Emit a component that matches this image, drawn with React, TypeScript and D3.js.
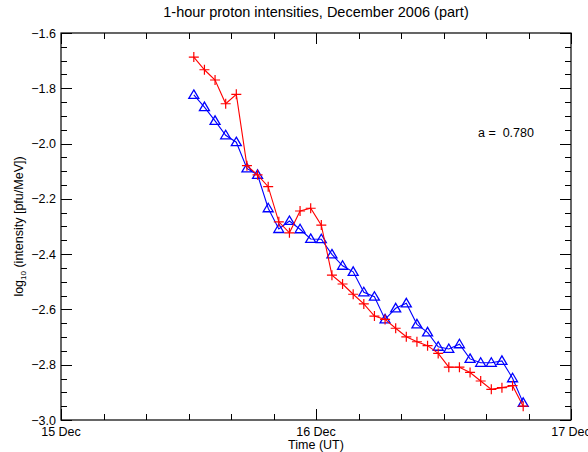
import React from "react";
import * as d3 from "d3";

const hours = [12.5, 13.5, 14.5, 15.5, 16.5, 17.5, 18.5, 19.5, 20.5, 21.5, 22.5, 23.5, 24.5, 25.5, 26.5, 27.5, 28.5, 29.5, 30.5, 31.5, 32.5, 33.5, 34.5, 35.5, 36.5, 37.5, 38.5, 39.5, 40.5, 41.5, 42.5, 43.5];
const redSeries = [-1.687, -1.733, -1.770, -1.856, -1.822, -2.080, -2.113, -2.156, -2.283, -2.323, -2.244, -2.234, -2.295, -2.476, -2.508, -2.545, -2.580, -2.624, -2.636, -2.668, -2.699, -2.717, -2.731, -2.759, -2.809, -2.809, -2.828, -2.859, -2.889, -2.883, -2.876, -2.950];
const blueSeries = [-1.824, -1.868, -1.918, -1.970, -1.995, -2.090, -2.113, -2.234, -2.309, -2.280, -2.310, -2.345, -2.346, -2.401, -2.442, -2.464, -2.538, -2.554, -2.636, -2.596, -2.578, -2.654, -2.683, -2.735, -2.743, -2.726, -2.779, -2.793, -2.793, -2.786, -2.849, -2.938];
const xTickHours = [0, 24, 48];
const xTickLabels = ["15 Dec", "16 Dec", "17 Dec"];
const yTickValues = [-1.6, -1.8, -2.0, -2.2, -2.4, -2.6, -2.8, -3.0];
const titleText = "1-hour proton intensities, December 2006 (part)";
const xTitle = "Time (UT)";
const annotation = "a =  0.780";

const W = 588, H = 452;
const L = 61, R = 571, T = 33, B = 420;
const FONT = "'Liberation Sans', Arial, Helvetica, sans-serif";

export default function App() {
  const x = d3.scaleLinear().domain([0, 48]).range([L, R]);
  const y = d3.scaleLinear().domain([-3.0, -1.6]).range([B, T]);
  const line = d3.line<number>().x((_, i) => x(hours[i])).y((d) => y(d));

  const xMinor = d3.range(0, 48.001, 4);
  const yMinor = d3.range(-3.0, -1.5999, 0.05);

  return (
    <svg width={W} height={H} style={{ position: "absolute", left: 0, top: 0 }} fontFamily={FONT}>
      <rect width={W} height={H} fill="white" />
      <text x={(L + R) / 2} y={17} textAnchor="middle" fontSize={14.5} fill="#000">{titleText}</text>
      {/* ticks */}
      <g stroke="#000" strokeWidth={1}>
        {xMinor.map((h) => {
          const major = Math.abs(h % 24) < 1e-6;
          const len = major ? 11 : 6;
          const px = Math.round(x(h)) + 0.5;
          return (
            <g key={"xt" + h}>
              <line x1={px} x2={px} y1={B} y2={B - len} />
              <line x1={px} x2={px} y1={T} y2={T + len} />
            </g>
          );
        })}
        {yMinor.map((v, i) => {
          const major = i % 4 === 0;
          const len = major ? 11 : 6;
          const py = Math.round(y(v)) + 0.5;
          return (
            <g key={"yt" + i}>
              <line x1={L} x2={L + len} y1={py} y2={py} />
              <line x1={R} x2={R - len} y1={py} y2={py} />
            </g>
          );
        })}
      </g>
      <rect x={L} y={T} width={R - L} height={B - T} fill="none" stroke="#000" strokeWidth={1.2} />
      {/* y labels */}
      {yTickValues.map((v) => (
        <text key={"yl" + v} x={L - 5} y={y(v) + 4.5} textAnchor="end" fontSize={12.5} fill="#000">
          {d3.format(".1f")(v)}
        </text>
      ))}
      {xTickHours.map((h, i) => (
        <text key={"xl" + h} x={x(h)} y={B + 16} textAnchor="middle" fontSize={12.5} fill="#000">
          {xTickLabels[i]}
        </text>
      ))}
      <text x={(L + R) / 2} y={B + 29} textAnchor="middle" fontSize={12.5} fill="#000">{xTitle}</text>
      <text transform={`translate(23, ${(T + B) / 2}) rotate(-90)`} textAnchor="middle" fontSize={12.5} fill="#000">
        log<tspan fontSize={8} dy={3}>10</tspan><tspan dy={-3}> (intensity [pfu/MeV])</tspan>
      </text>
      <text x={478} y={137} fontSize={12.5} fill="#000" style={{ whiteSpace: "pre" }}>{annotation}</text>
      {/* blue series */}
      <path d={line(blueSeries) || ""} fill="none" stroke="#0000ff" strokeWidth={1.1} />
      {blueSeries.map((v, i) => {
        const cx = x(hours[i]), cy = y(v);
        return (
          <path key={"b" + i} d={`M${cx},${cy - 5}L${cx + 5},${cy + 3.5}L${cx - 5},${cy + 3.5}Z`} fill="none" stroke="#0000ff" strokeWidth={1.3} />
        );
      })}
      {/* red series */}
      <path d={line(redSeries) || ""} fill="none" stroke="#ff0000" strokeWidth={1.1} />
      {redSeries.map((v, i) => {
        const cx = x(hours[i]), cy = y(v);
        return (
          <path key={"r" + i} d={`M${cx - 5},${cy}H${cx + 5}M${cx},${cy - 5}V${cy + 5}`} fill="none" stroke="#ff0000" strokeWidth={1.2} />
        );
      })}
    </svg>
  );
}
